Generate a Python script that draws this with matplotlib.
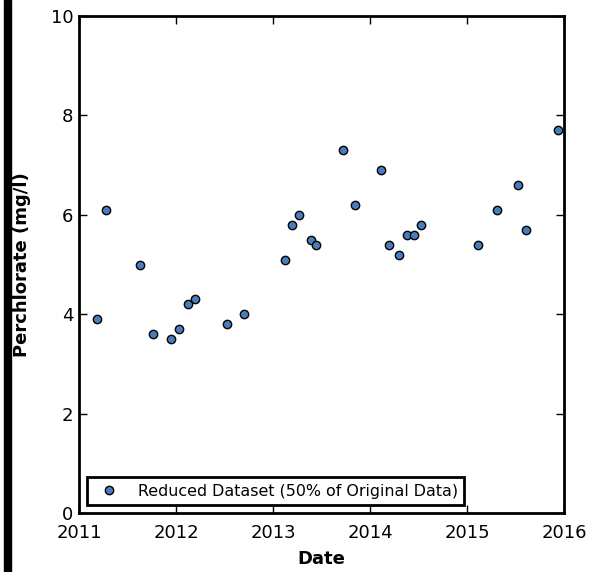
import matplotlib
matplotlib.use("Agg")
import matplotlib.pyplot as plt
import matplotlib.dates as mdates
from matplotlib.patches import Rectangle
import pandas as pd

dates = ["2011-03-10", "2011-04-12", "2011-08-18", "2011-10-08", "2011-12-13",
         "2012-01-12", "2012-02-14", "2012-03-14", "2012-07-13", "2012-09-13",
         "2013-02-14", "2013-03-14", "2013-04-09", "2013-05-23", "2013-06-10",
         "2013-09-20", "2013-11-06", "2014-02-10", "2014-03-14", "2014-04-20",
         "2014-05-19", "2014-06-14", "2014-07-13", "2015-02-10", "2015-04-23",
         "2015-07-13", "2015-08-11", "2015-12-10"]
perchlorate = [3.9, 6.1, 5.0, 3.6, 3.5, 3.7, 4.2, 4.3, 3.8, 4.0,
               5.1, 5.8, 6.0, 5.5, 5.4, 7.3, 6.2, 6.9, 5.4, 5.2,
               5.6, 5.6, 5.8, 5.4, 6.1, 6.6, 5.7, 7.7]
years = ["2011", "2012", "2013", "2014", "2015", "2016"]

x = pd.to_datetime(dates)

fig = plt.figure(figsize=(5.92, 5.72), dpi=100)
ax = fig.add_axes([79/592, 1-513/572, (564-79)/592, (513-16)/572])
fig.patches.append(Rectangle((4/592, 0), 7/592, 1, transform=fig.transFigure,
                             color="black", zorder=10))

ax.plot(x, perchlorate, "o", color="#4a7ebb", markeredgecolor="black",
        markeredgewidth=1.0, markersize=6, label="Reduced Dataset (50% of Original Data)")

ticks = pd.to_datetime([y + "-01-01" for y in years])
ax.set_xlim(ticks[0], ticks[-1])
ax.set_xticks(ticks)
ax.set_xticklabels(years)
ax.set_ylim(0, 10)
ax.set_yticks([0, 2, 4, 6, 8, 10])

for s in ax.spines.values():
    s.set_linewidth(2)
ax.tick_params(direction="in", length=6, width=1, top=True, right=True,
               labelsize=13)
ax.tick_params(axis="x", pad=8)
ax.tick_params(axis="y", pad=4)

ax.set_xlabel("Date", fontsize=13, fontweight="bold", labelpad=6)
ax.set_ylabel("Perchlorate (mg/l)", fontsize=13, fontweight="bold", labelpad=14)

leg = ax.legend(loc="lower left", fontsize=11.4, numpoints=1, fancybox=False,
                framealpha=1, borderaxespad=0.5, handletextpad=0.8,
                borderpad=0.4, handlelength=2.0)
leg.get_frame().set_edgecolor("black")
leg.get_frame().set_linewidth(2)

fig.savefig("out.png", dpi=100)
